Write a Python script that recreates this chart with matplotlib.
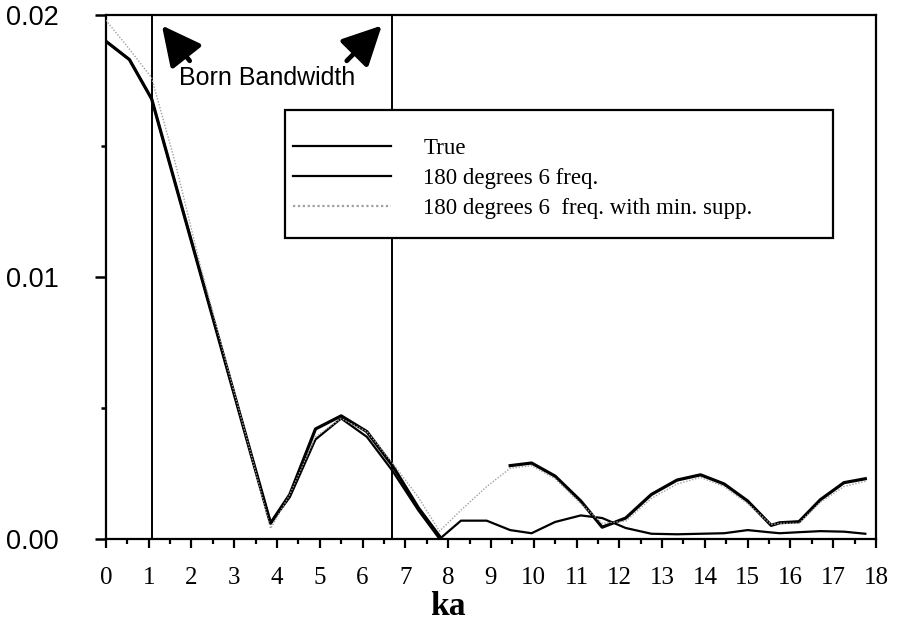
import numpy as np
import matplotlib
matplotlib.use("Agg")
import matplotlib.pyplot as plt
from matplotlib.patches import Rectangle
from matplotlib.ticker import MultipleLocator, FixedLocator

# Sample points (wavenumber times radius)
ka = [0.0, 0.55, 1.07, 1.6, 2.2, 2.8, 3.4, 3.85, 4.3, 4.9, 5.5, 6.1, 6.7, 7.3,
      7.8, 8.3, 8.9, 9.45, 9.95, 10.5, 11.1, 11.6, 12.15, 12.75, 13.35, 13.9,
      14.45, 15.0, 15.55, 15.75, 16.2, 16.7, 17.25, 17.75]

# Scattering amplitude magnitude for each curve (NaN = not plotted)
true_vals = [0.0190, 0.0183, 0.0168, 0.0137, 0.0102, 0.0067, 0.0032, 0.0006,
             0.0017, 0.0042, 0.0047, 0.0041, 0.0028, 0.0012, 0.0001, np.nan,
             np.nan, 0.0028, 0.0029, 0.0024, 0.00145, 0.00045, 0.0008, 0.0017,
             0.00225, 0.00245, 0.0021, 0.00145, 0.00052, 0.00062, 0.00066,
             0.0015, 0.00215, 0.0023]

six_freq_vals = [0.0190, 0.0183, 0.0168, 0.0137, 0.0102, 0.0067, 0.0032, 0.0006,
                 0.0016, 0.0038, 0.0046, 0.0039, 0.0026, 0.0011, 0.0000, 0.0007,
                 0.0007, 0.00034, 0.00022, 0.00065, 0.0009, 0.0008, 0.00042,
                 0.0002, 0.00018, 0.0002, 0.00022, 0.00034, 0.00025, 0.00022,
                 0.00026, 0.0003, 0.00028, 0.0002]

min_supp_vals = [0.0198, 0.0187, 0.0176, 0.0145, 0.0105, 0.0068, 0.0032, 0.0004,
                 0.0017, 0.0039, 0.0046, 0.0041, 0.0029, 0.0016, 0.0003, 0.0011,
                 0.0020, 0.0027, 0.0028, 0.0023, 0.00135, 0.0006, 0.00068,
                 0.00155, 0.0021, 0.00235, 0.0020, 0.00135, 0.00055, 0.0006,
                 0.0006, 0.0014, 0.0020, 0.0022]

born_band = [1.07, 6.68]
series_labels = ["True", "180 degrees 6 freq.", "180 degrees 6  freq. with min. supp."]

serif = "Liberation Serif"
sans = "Liberation Sans"

fig = plt.figure(figsize=(8.97, 6.25), dpi=100)
ax = fig.add_axes([0.118, 0.1376, 0.8586, 0.8384])

ax.plot(ka, true_vals, color="black", lw=2.3, label=series_labels[0], zorder=4)
ax.plot(ka, six_freq_vals, color="black", lw=1.6, label=series_labels[1], zorder=3)
ax.plot(ka, min_supp_vals, color="#a0a0a0", lw=1.0, ls=(0, (1, 1.2)),
        label=series_labels[2], zorder=5)

for b in born_band:
    ax.axvline(b, color="black", lw=1.4, zorder=2)

ax.set_xlim(0, 18)
ax.set_ylim(0, 0.02)

ax.xaxis.set_major_locator(MultipleLocator(1))
ax.xaxis.set_minor_locator(MultipleLocator(0.5))
ax.yaxis.set_major_locator(FixedLocator([0.0, 0.01, 0.02]))
ax.yaxis.set_minor_locator(FixedLocator([0.005, 0.015]))
ax.set_yticklabels(["0.00", "0.01", "0.02"])

ax.tick_params(axis="x", which="major", direction="out", length=6.5, width=1.6,
               pad=14, labelsize=18)
ax.tick_params(axis="x", which="minor", direction="out", length=3.8, width=1.6)
ax.tick_params(axis="y", which="major", direction="out", length=8, width=1.8,
               pad=26, labelsize=19.5)
ax.tick_params(axis="y", which="minor", direction="out", length=3.5, width=1.8)
for lab in ax.get_xticklabels():
    lab.set_fontfamily(serif)
for lab in ax.get_yticklabels():
    lab.set_fontfamily(sans)

for sp in ax.spines.values():
    sp.set_linewidth(1.6)

ax.set_xlabel("ka", fontfamily=serif, fontweight="bold", fontsize=24, labelpad=1)
ax.xaxis.set_label_coords(0.444, -0.1)

# Born bandwidth annotation
ax.text(3.77, 0.0176, "Born Bandwidth", fontfamily=sans, fontsize=18,
        ha="center", va="center")
arrow_kw = dict(arrowstyle="-|>,head_length=1.2,head_width=0.6",
                color="black", lw=3.4, mutation_scale=20, shrinkA=0, shrinkB=0)
ax.annotate("", xy=(1.31, 0.0196), xytext=(1.96, 0.01825), arrowprops=arrow_kw)
ax.annotate("", xy=(6.45, 0.0196), xytext=(5.63, 0.01825), arrowprops=arrow_kw)

# Legend box drawn as a plain rectangle with the entries laid out inside it
box = Rectangle((0.2325, 0.5744), 0.7117, 0.2443, transform=ax.transAxes,
                facecolor="white", edgecolor="black", lw=1.6, zorder=6)
ax.add_patch(box)
leg = ax.legend(loc="upper left", bbox_to_anchor=(0.2425, 0.766),
                prop={"family": serif, "size": 16.5}, frameon=False,
                handlelength=4.3, handletextpad=1.4, labelspacing=0.4,
                borderpad=0, borderaxespad=0)
leg.set_zorder(7)
for line in leg.get_lines():
    line.set_linewidth(1.6)

fig.savefig("out.png", dpi=100)
